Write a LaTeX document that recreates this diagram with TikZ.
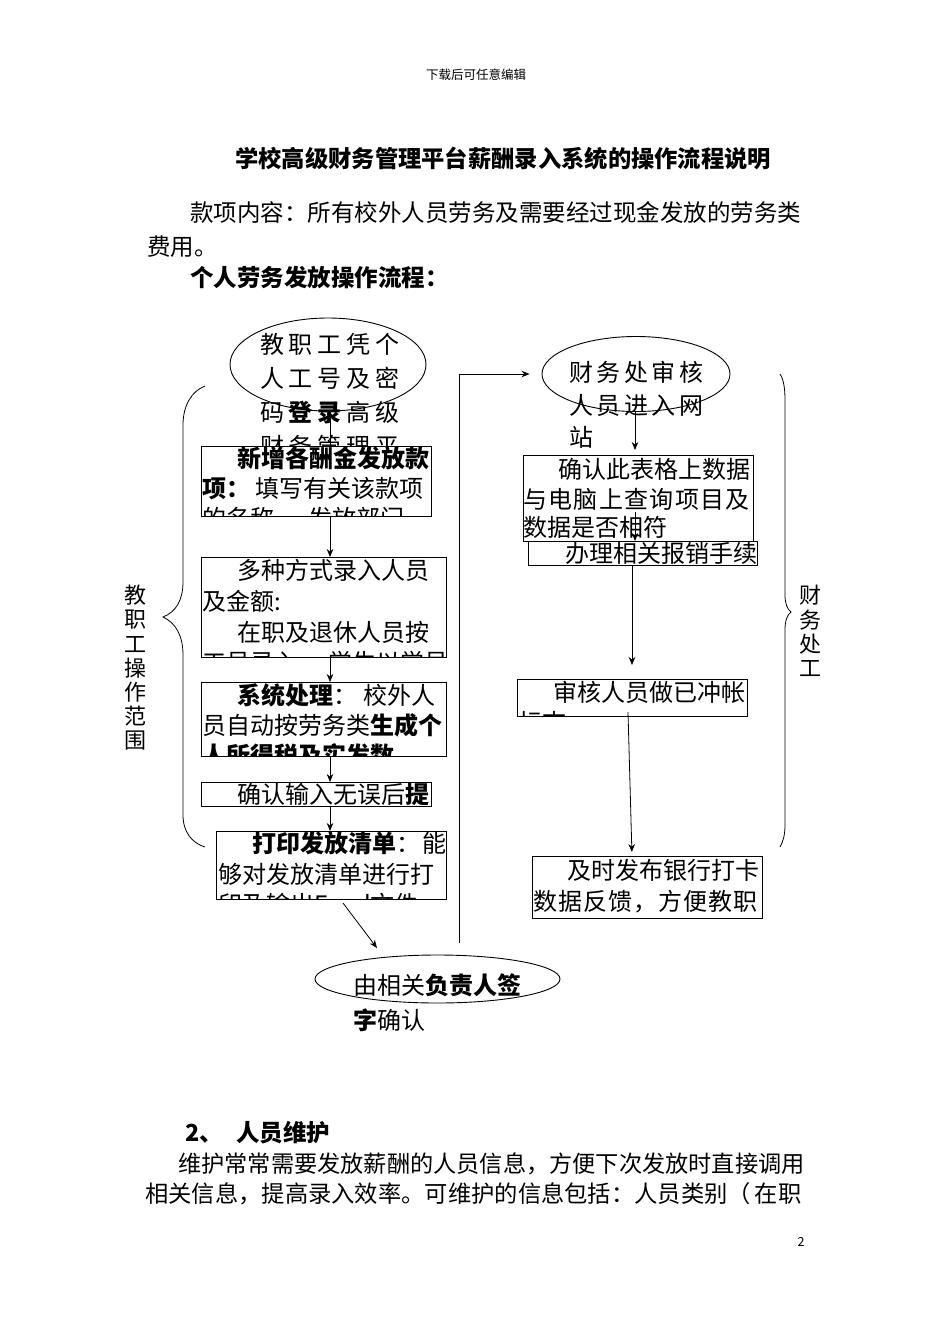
\documentclass[tikz,border=0pt]{standalone}
\usepackage{fontspec}
\setmainfont{Noto Sans CJK SC}
\usetikzlibrary{shapes.geometric,arrows.meta}
\newcommand\myfs[1]{\fontsize{#1}{#1}\selectfont}
\def\spc#1#2{\def\spcgap{#1}\spcaux#2\relax}
\def\spcaux#1{\ifx\relax#1\else#1\hspace{\spcgap}\expandafter\spcaux\fi}
\tikzset{
  t/.style={anchor=base west, inner sep=0pt, font=\myfs{24}},
  body/.style={anchor=base west, inner sep=0pt, font=\myfs{23.5}},
  boxs/.style={fill=white, inner sep=0pt, anchor=north west},
  bord/.style={line width=1pt},
  ell/.style={draw, ellipse, line width=0.9pt, inner sep=0pt},
  arr/.style={-{Stealth[length=8pt,width=6.5pt]}, line width=0.8pt},
  ln/.style={line width=0.8pt},
  vlab/.style={align=center, inner sep=0pt, font=\fontsize{22}{24.2}\selectfont}
}
\begin{document}
\begin{tikzpicture}[x=1pt,y=-1pt]
\useasboundingbox[fill=white] (0,0) rectangle (950,1344);

% ---------- page text ----------
\node[inner sep=0pt, font=\myfs{12.5}] (hdr) at (476,75) {下载后可任意编辑};
\node[body, font=\myfs{23.3}\bfseries] (title) at (235,167) {学校高级财务管理平台薪酬录入系统的操作流程说明};
\node[body] (p1) at (190,221) {款项内容：所有校外人员劳务及需要经过现金发放的劳务类};
\node[body] (p2) at (147,255) {费用。};
\node[body, font=\myfs{23.5}\bfseries] (p3) at (190,286) {个人劳务发放操作流程：};
\node[body, font=\myfs{23.5}\bfseries] (s2a) at (185,1141) {2、};
\node[body, font=\myfs{23.5}\bfseries] (s2b) at (236,1141) {人员维护};
\node[body, font=\myfs{23.2}] (q1) at (178,1172) {维护常常需要发放薪酬的人员信息，方便下次发放时直接调用};
\node[body, font=\myfs{23.3}] (q2) at (145,1202) {相关信息，提高录入效率。可维护的信息包括：人员类别（\hspace{4pt}在职};
\node[inner sep=0pt, font=\myfs{12.5}] (pg) at (801,1242) {2};

% ---------- left column ----------
\coordinate (lx) at (330,0);
\node[ell, minimum width=196pt, minimum height=93pt] (e1) at (328,364.5) {};
\node[t] (e1t1) at (260,353) {\spc{4.75pt}{教职工凭个}};
\node[t] (e1t2) at (260,387) {\spc{4.75pt}{人工号及密}};
\node[t] (e1t3) at (260,421) {\spc{4.75pt}{码}\textbf{\spc{4.75pt}{登录}}\spc{4.75pt}{高级}};
\begin{scope}
\clip (200,430) rectangle (440,446);
\node[t] (e1t4) at (260,455) {\spc{4.75pt}{财务管理平}};
\end{scope}
\draw[ln] (e1.south -| lx) -- (330,446);

% box 1
\node[boxs, minimum width=230pt, minimum height=70pt] (b1) at (201,446) {};
\begin{scope}
\clip (b1.south west) rectangle (b1.north east);
\node[t] at (237,467) {\textbf{新增各酬金发放款}};
\node[t] at (202,497) {\textbf{项：}\hspace{5pt}填写有关该款项};
\node[t] at (202,527) {的名称、\hspace{10pt}发放部门};
\end{scope}
\draw[bord] (b1.south west) rectangle (b1.north east);

% box 2
\node[boxs, minimum width=245pt, minimum height=100pt] (b2) at (201,557) {};
\begin{scope}
\clip (b2.south west) rectangle (b2.north east);
\node[t] at (237,579) {多种方式录入人员};
\node[t] at (202,610) {及金额:};
\node[t] at (237,641) {在职及退休人员按};
\node[t] at (202,671) {工号录入，\hspace{6pt}学生以学号};
\end{scope}
\draw[bord] (b2.south west) rectangle (b2.north east);

% box 3
\node[boxs, minimum width=245pt, minimum height=74pt] (b3) at (201,682) {};
\begin{scope}
\clip (b3.south west) rectangle (b3.north east);
\node[t] at (237,704) {\textbf{系统处理}：\hspace{6pt}校外人};
\node[t] at (202,734) {员自动按劳务类\textbf{生成个}};
\node[t] at (202,764) {\textbf{人所得税及实发数}};
\end{scope}
\draw[bord] (b3.south west) rectangle (b3.north east);

% box 4
\node[boxs, minimum width=230pt, minimum height=24pt] (b4) at (201,782) {};
\begin{scope}
\clip (b4.south west) rectangle (b4.north east);
\node[t] at (237,803) {确认输入无误后\textbf{提}};
\end{scope}
\draw[bord] (b4.south west) rectangle (b4.north east);

% box 5
\node[boxs, minimum width=230pt, minimum height=68pt] (b5) at (216,831) {};
\begin{scope}
\clip (b5.south west) rectangle (b5.north east);
\node[t] at (252,852) {\textbf{打印发放清单}：\hspace{2pt}能};
\node[t] at (218,883) {够对发放清单进行打};
\node[t] at (218,913) {印及输出Excel文件};
\end{scope}
\draw[bord] (b5.south west) rectangle (b5.north east);

\draw[arr] (b1.south -| lx) -- (b2.north -| lx);
\draw[arr] (b2.south -| lx) -- (b3.north -| lx);
\draw[arr] (b3.south -| lx) -- (b4.north -| lx);
\draw[arr] (b4.south -| lx) -- (b5.north -| lx);

% bottom ellipse
\node[ell, minimum width=245pt, minimum height=48pt] (e3) at (437.5,979) {};
\node[t] (e3t1) at (353,994) {由相关\textbf{负责人签}};
\node[t] (e3t2) at (353,1029) {\textbf{字}确认};
\coordinate (b5a) at (343,903);
\coordinate (e3a) at (377,948);
\draw[arr] (b5a) -- (e3a);

% left brace and label
\draw[ln] (205,386) .. controls (192,391) and (183,405) .. (183,425) -- (183,582)
  .. controls (183,600) and (176,612) .. (163,617)
  .. controls (176,623) and (183,636) .. (183,655) -- (183,815)
  .. controls (183,832) and (192,843) .. (205,847);
\node[vlab] (llab) at (135,668) {教\\职\\工\\操\\作\\范\\围};

% ---------- right column ----------
\coordinate (rx) at (635,0);
\coordinate (rx2) at (632,0);
\node[ell, minimum width=188pt, minimum height=75pt] (e2) at (636,374) {};
\node[t] (e2t1) at (569,381) {\spc{3.5pt}{财务处审核}};
\node[t] (e2t2) at (569,414) {\spc{3.5pt}{人员进入网}};
\node[t] (e2t3) at (569,446) {站};
\draw[arr, shorten >=5pt] (e2.south -| rx) -- (635,455);

% R1
\node[boxs, minimum width=230pt, minimum height=86pt] (r1) at (523,455) {};
\begin{scope}
\clip (r1.south west) rectangle (r1.north east);
\node[t] at (558,478) {确认此表格上数据};
\node[t] at (523,508) {\spc{1.3pt}{与电脑上查询项目及}};
\node[t] at (523,536) {数据是否相符};
\end{scope}
\draw[bord] (r1.south west) rectangle (r1.north east);

% R2
\node[boxs, minimum width=229pt, minimum height=24pt] (r2) at (528,541) {};
\begin{scope}
\clip (r2.south west) rectangle (r2.north east);
\node[t] at (565,562) {办理相关报销手续};
\end{scope}
\draw[bord] (r2.south west) rectangle (r2.north east);
\coordinate (r1a) at (635,512);
\draw[arr] (r1a) -- (r2.north -| rx);

% R3
\node[boxs, minimum width=230pt, minimum height=37pt] (r3) at (517,679) {};
\begin{scope}
\clip (r3.south west) rectangle (r3.north east);
\node[t] at (553,701) {审核人员做已冲帐};
\node[t] at (518,731) {标志};
\end{scope}
\draw[bord] (r3.south west) rectangle (r3.north east);
\draw[arr, shorten >=14pt] (r2.south -| rx2) -- (r3.north -| rx2);

% R4
\node[boxs, minimum width=230pt, minimum height=62pt] (r4) at (532,856) {};
\begin{scope}
\clip (r4.south west) rectangle (r4.north east);
\node[t] at (567,879) {及时发布银行打卡};
\node[t] at (533,910) {\spc{1.1pt}{数据反馈，方便教职}};
\end{scope}
\draw[bord] (r4.south west) rectangle (r4.north east);
\coordinate (r3a) at (628,712);
\draw[arr, shorten >=4pt] (r3a) -- (r4.north -| rx2);

% return line
\coordinate (ret0) at (459,943);
\draw[arr, shorten >=12pt] (ret0) |- (e2.west);

% right brace and label
\draw[ln] (780,374) .. controls (784,380) and (785,390) .. (785,400) -- (785,595)
  .. controls (785,603) and (787,609) .. (791,612)
  .. controls (787,615) and (785,621) .. (785,630) -- (785,825)
  .. controls (785,835) and (783,842) .. (780,847);
\node[vlab] (rlab) at (810,631) {财\\务\\处\\工};
\end{tikzpicture}
\end{document}
